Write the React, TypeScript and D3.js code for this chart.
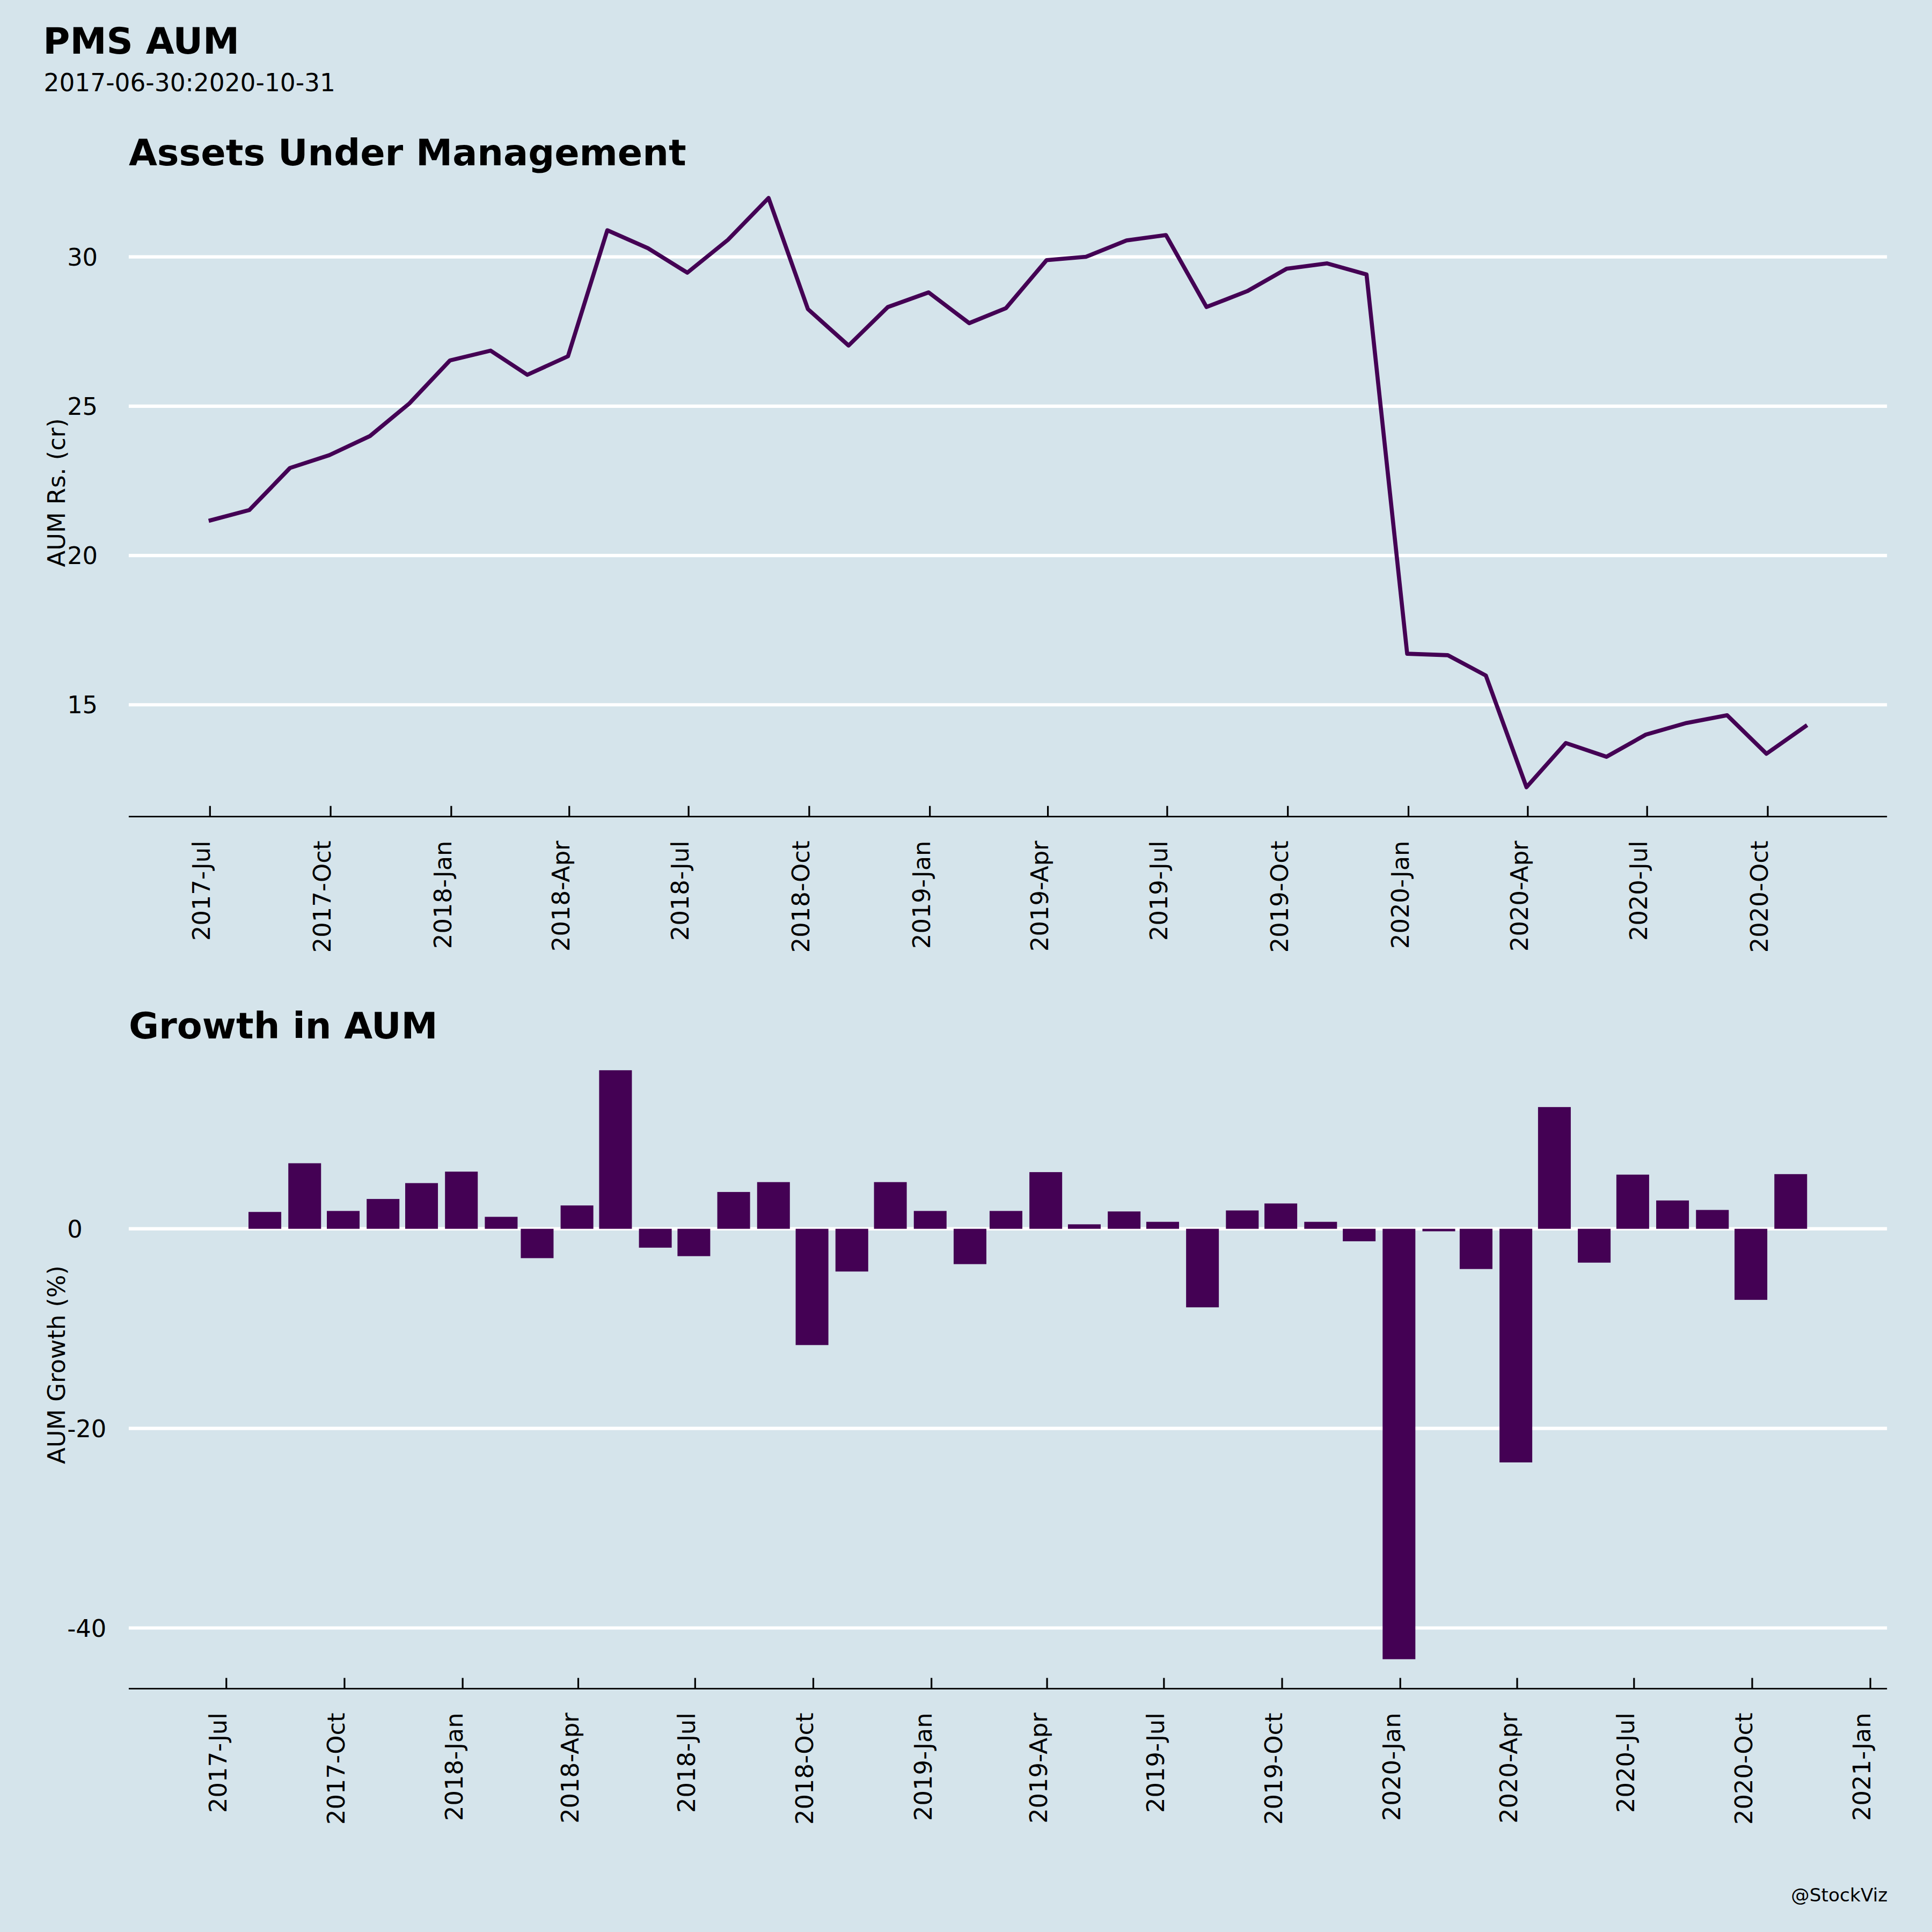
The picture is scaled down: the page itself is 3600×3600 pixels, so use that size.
import * as d3 from 'd3'

// month-end AUM (Rs. cr) and month-on-month growth (%)
const aumDates = [
  '2017-06-30', '2017-07-31', '2017-08-31', '2017-09-30', '2017-10-31', '2017-11-30', '2017-12-31',
  '2018-01-31', '2018-02-28', '2018-03-31', '2018-04-30', '2018-05-31', '2018-06-30', '2018-07-31',
  '2018-08-31', '2018-09-30', '2018-10-31', '2018-11-30', '2018-12-31', '2019-01-31', '2019-02-28',
  '2019-03-31', '2019-04-30', '2019-05-31', '2019-06-30', '2019-07-31', '2019-08-31', '2019-09-30',
  '2019-10-31', '2019-11-30', '2019-12-31', '2020-01-31', '2020-02-29', '2020-03-31', '2020-04-30',
  '2020-05-31', '2020-06-30', '2020-07-31', '2020-08-31', '2020-09-30', '2020-10-31',
]
const aumValues = [
  21.16, 21.52, 22.93, 23.36, 24.0, 25.09, 26.53, 26.86, 26.05, 26.67,
  30.89, 30.29, 29.47, 30.57, 31.97, 28.25, 27.03, 28.32, 28.81, 27.78,
  28.28, 29.89, 30.0, 30.55, 30.73, 28.32, 28.85, 29.6, 29.78, 29.41,
  16.71, 16.66, 15.98, 12.24, 13.72, 13.26, 14.0, 14.39, 14.65, 13.36, 14.32,
]
// growth starts one month later (first month has no prior value)
const growthValues = [
  1.69, 6.57, 1.79, 2.99, 4.58, 5.73, 1.2, -2.94, 2.34, 15.89,
  -1.89, -2.74, 3.69, 4.68, -11.65, -4.28, 4.68, 1.79, -3.54, 1.79,
  5.68, 0.45, 1.74, 0.7, -7.87, 1.84, 2.54, 0.7, -1.25, -43.13,
  -0.25, -4.03, -23.41, 12.2, -3.39, 5.43, 2.84, 1.89, -7.12, 5.48,
]
const aumTicks = [15, 20, 25, 30]
const growthTicks = [-40, -20, 0]

const BG = '#d5e4eb'
const PURPLE = '#440154'
const FONT = 'DejaVu Sans'
const DAY = 86400000
const BAR_DAYS = 25.5

const W = 1568
const left = 104.5
const right = 1531.5
const top1 = 136.8
const bottom1 = 662.8
const top2 = 844.7
const bottom2 = 1370.5

const parse = d3.utcParse('%Y-%m-%d')
const fmt = d3.utcFormat('%Y-%b')

function pad(lo: number, hi: number, f = 0.05): [number, number] {
  const p = (hi - lo) * f
  return [lo - p, hi + p]
}

function XAxis({ x, y, ticks }: { x: d3.ScaleTime<number, number>; y: number; ticks: Date[] }) {
  return (
    <g>
      <line x1={left} x2={right} y1={y} y2={y} stroke="#000" strokeWidth={1.2} />
      {ticks.map((t) => (
        <g key={t.getTime()}>
          <line x1={x(t)} x2={x(t)} y1={y} y2={y - 8.7} stroke="#000" strokeWidth={1.4} />
          <text
            transform={`translate(${x(t)},${y + 19.5}) rotate(-90)`}
            textAnchor="end"
            fontSize={19.5}
            fontFamily={FONT}
          >
            {fmt(t)}
          </text>
        </g>
      ))}
    </g>
  )
}

function YGrid({ y, ticks }: { y: d3.ScaleLinear<number, number>; ticks: number[] }) {
  return (
    <g>
      {ticks.map((t) => (
        <g key={t}>
          <line x1={left} x2={right} y1={y(t)} y2={y(t)} stroke="#fff" strokeWidth={2.7} />
          <text x={54.5} y={y(t)} dy="0.36em" fontSize={19.5} fontFamily={FONT}>
            {t}
          </text>
        </g>
      ))}
    </g>
  )
}

export default function App() {
  const dates = aumDates.map((d) => parse(d) as Date)
  const gDates = dates.slice(1)

  // top panel
  const t0 = dates[0].getTime()
  const t1 = dates[dates.length - 1].getTime()
  const x1 = d3.scaleUtc().domain(pad(t0, t1).map((v) => new Date(v))).range([left, right])
  const [amin, amax] = d3.extent(aumValues) as [number, number]
  const y1 = d3.scaleLinear().domain(pad(amin, amax)).range([bottom1, top1])
  const line = d3
    .line<number>()
    .x((_, i) => x1(dates[i]))
    .y((v) => y1(v))

  // bottom panel (extent includes the empty first month, as in the source plot)
  const half = (BAR_DAYS / 2) * DAY
  const x2 = d3
    .scaleUtc()
    .domain(pad(t0 - half, t1 + half).map((v) => new Date(v)))
    .range([left, right])
  const gmin = Math.min(0, d3.min(growthValues) as number)
  const gmax = Math.max(0, d3.max(growthValues) as number)
  const y2 = d3.scaleLinear().domain(pad(gmin, gmax)).range([bottom2, top2])

  const ticks1 = x1.ticks(d3.utcMonth.every(3) as d3.TimeInterval)
  const ticks2 = x2.ticks(d3.utcMonth.every(3) as d3.TimeInterval)

  return (
    <svg
      width={3600}
      height={3600}
      viewBox={`0 0 ${W} ${W}`}
      style={{ position: 'absolute', left: 0, top: 0, display: 'block' }}
    >
      <rect width={W} height={W} fill={BG} />
      <text x={35} y={43.6} fontSize={29.8} fontWeight="bold" fontFamily={FONT}>
        PMS AUM
      </text>
      <text x={35.5} y={74} fontSize={19.8} fontFamily={FONT}>
        2017-06-30:2020-10-31
      </text>

      {/* Assets Under Management */}
      <text x={104.5} y={134.3} fontSize={29.8} fontWeight="bold" fontFamily={FONT}>
        Assets Under Management
      </text>
      <YGrid y={y1} ticks={aumTicks} />
      <path d={line(aumValues) ?? ''} fill="none" stroke={PURPLE} strokeWidth={3.3} strokeLinejoin="round" />
      <XAxis x={x1} y={bottom1} ticks={ticks1} />
      <text
        transform={`translate(52.5,${(top1 + bottom1) / 2}) rotate(-90)`}
        textAnchor="middle"
        fontSize={19.5}
        fontFamily={FONT}
      >
        AUM Rs. (cr)
      </text>

      {/* Growth in AUM */}
      <text x={104.5} y={843} fontSize={29.8} fontWeight="bold" fontFamily={FONT}>
        Growth in AUM
      </text>
      <YGrid y={y2} ticks={growthTicks} />
      {growthValues.map((v, i) => {
        const cx = x2(gDates[i])
        const w = x2(new Date(gDates[i].getTime() + half)) - x2(new Date(gDates[i].getTime() - half))
        return (
          <rect
            key={i}
            x={cx - w / 2}
            width={w}
            y={Math.min(y2(v), y2(0))}
            height={Math.abs(y2(v) - y2(0))}
            fill={PURPLE}
          />
        )
      })}
      <XAxis x={x2} y={bottom2} ticks={ticks2} />
      <text
        transform={`translate(52.5,${(top2 + bottom2) / 2}) rotate(-90)`}
        textAnchor="middle"
        fontSize={19.5}
        fontFamily={FONT}
      >
        AUM Growth (%)
      </text>

      <text x={1532} y={1543} textAnchor="end" fontSize={15} fontFamily={FONT}>
        @StockViz
      </text>
    </svg>
  )
}
